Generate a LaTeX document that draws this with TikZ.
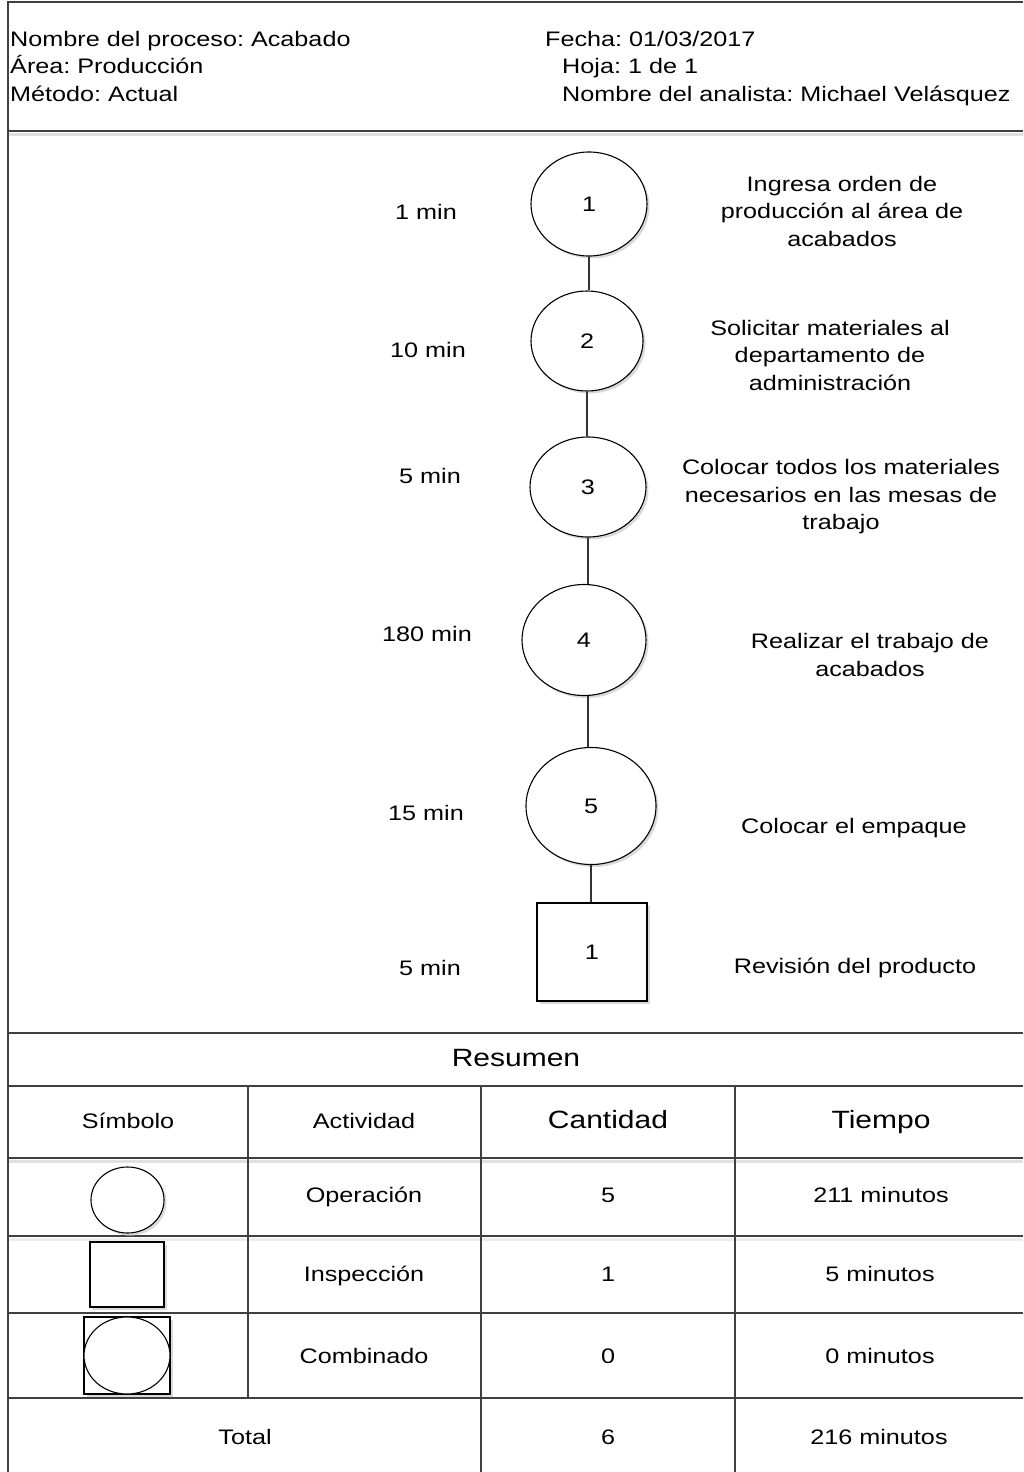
\documentclass[tikz,border=0pt]{standalone}
\usepackage{fontspec}
\setmainfont[FakeStretch=1.2]{Liberation Sans}
\usetikzlibrary{shapes.geometric,shadows,calc}
\frenchspacing

\begin{document}
\begin{tikzpicture}[x=1pt, y=-1pt,
	   every node/.style={font=\fontsize{21}{27.5}\selectfont},
	   big/.style={font=\fontsize{25}{30}\selectfont},
	   hd/.style={anchor=base west, inner sep=0pt},
	   desc/.style={align=center},
	   shd/.style={drop shadow={shadow xshift=2.5pt, shadow yshift=-2.5pt, fill=black!15, opacity=1}},
	   op/.style={draw, ellipse, fill=white, line width=1.1pt, inner sep=0pt},
	   insp/.style={draw, rectangle, fill=white, line width=1.1pt, inner sep=0pt},
	   tline/.style={line width=1.6pt, black!75},
	   lnk/.style={line width=1.4pt, black!80}]
	  \useasboundingbox (0,0) rectangle (1023,1472);
	  % frame and header
	  \draw[tline] (8,1472) -- (8,2) -- (1023,2);
	  \draw[line width=3pt, black!12] (9,134) -- (1023,134);
	  \draw[tline] (8,131) -- (1023,131);
	  \node[hd] (h1) at (10,47) {Nombre del proceso: Acabado};
	  \node[hd] (h2) at (10,74) {Área: Producción};
	  \node[hd] (h3) at (10,101) {Método: Actual};
	  \node[hd] (h4) at (545,47) {Fecha: 01/03/2017};
	  \node[hd] (h5) at (562,74) {Hoja: 1 de 1};
	  \node[hd] (h6) at (562,101) {Nombre del analista: Michael Velásquez};
	  % process chart
	  \node[op, shd, minimum width=116pt, minimum height=104pt] (c1) at (589,204) {1};
	  \node[op, shd, minimum width=112pt, minimum height=100pt] (c2) at (587,341) {2};
	  \node[op, shd, minimum width=116pt, minimum height=100pt] (c3) at (588,487) {3};
	  \node[op, shd, minimum width=124pt, minimum height=111pt] (c4) at (584,640) {4};
	  \node[op, shd, minimum width=130pt, minimum height=117pt] (c5) at (591,806) {5};
	  \node[insp, shd, minimum width=110pt, minimum height=98pt] (sq) at (592,952) {1};
	  \draw[lnk] (c1.south) -- (c1.south |- c2.north);
	  \draw[lnk] (c2.south) -- (c2.south |- c3.north);
	  \draw[lnk] (c3.south) -- (c3.south |- c4.north);
	  \draw[lnk] (c4.south -| c3.south) -- (c3.south |- c5.north);
	  \draw[lnk] (c5.south) -- (c5.south |- sq.north);
	  \node (t1) at (426,212) {1 min};
	  \node (t2) at (428,350) {10 min};
	  \node (t3) at (430,476) {5 min};
	  \node (t4) at (427,634) {180 min};
	  \node (t5) at (426,813) {15 min};
	  \node (t6) at (430,968) {5 min};
	  \node[desc] (d1) at (842,211) {Ingresa orden de\\producción al área de\\acabados};
	  \node[desc] (d2) at (830,355) {Solicitar materiales al\\departamento de\\administración};
	  \node[desc] (d3) at (841,497) {Colocar todos los materiales\\necesarios en las mesas de\\trabajo};
	  \node[desc] (d4) at (870,655) {Realizar el trabajo de\\acabados};
	  \node (d5) at (854,828) {Colocar el empaque};
	  \node (d6) at (855,968) {Revisión del producto};
	  % summary table
	  \draw[line width=3pt, black!12] (9,1161) -- (1023,1161);
	  \draw[line width=3pt, black!7] (9,1239) -- (1023,1239);
	  \foreach \y in {1033,1086,1158,1236,1313,1398}
	    \draw[tline] (8,\y) -- (1023,\y);
	  \draw[tline] (248,1086) -- (248,1398);
	  \foreach \x in {481,735}
	    \draw[tline] (\x,1086) -- (\x,1472);
	  \node[op, shd, minimum width=73pt, minimum height=66pt] (s1) at (127.5,1200) {};
	  \node[insp, shd, minimum width=74pt, minimum height=65pt] (s2) at (127,1274.5) {};
	  \node[insp, shd, minimum width=86pt, minimum height=77pt] (s3) at (127,1355.5) {};
	  \node[op, minimum width=86pt, minimum height=77pt] (s3c) at (s3) {};
	  \begin{scope}[every node/.append style={text height=0.72em, text depth=0pt, yshift=-4pt}]
	  \node[big] (res) at (516,1059) {Resumen};
	  \node (k1) at (128,1121) {Símbolo};
	  \node (k2) at (364,1121) {Actividad};
	  \node[big] (k3) at (608,1121) {Cantidad};
	  \node[big] (k4) at (881,1121) {Tiempo};
	  \node (a1) at (364,1195) {Operación};
	  \node (a2) at (364,1274) {Inspección};
	  \node (a3) at (364,1356) {Combinado};
	  \node (q1) at (608,1195) {5};
	  \node (q2) at (608,1274) {1};
	  \node (q3) at (608,1356) {0};
	  \node (m1) at (881,1195) {211 minutos};
	  \node (m2) at (880,1274) {5 minutos};
	  \node (m3) at (880,1356) {0 minutos};
	  \node (tot) at (245,1437) {Total};
	  \node (q4) at (608,1437) {6};
	  \node (m4) at (879,1437) {216 minutos};
	  \end{scope}
	\end{tikzpicture}
\end{document}
